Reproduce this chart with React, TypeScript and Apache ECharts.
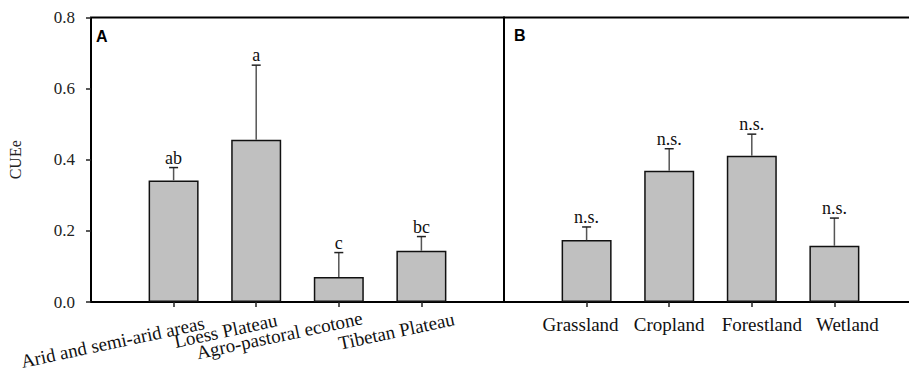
import React, { useEffect, useRef } from "react";
import * as echarts from "echarts";

const regionCategories = ["Arid and semi-arid areas", "Loess Plateau", "Agro-pastoral ecotone", "Tibetan Plateau"];
const regionMeans = [0.342, 0.456, 0.07, 0.144];
const regionErrorTops = [0.378, 0.666, 0.139, 0.184];
const regionLetters = ["ab", "a", "c", "bc"];

const landCategories = ["Grassland", "Cropland", "Forestland", "Wetland"];
const landMeans = [0.174, 0.369, 0.411, 0.158];
const landErrorTops = [0.211, 0.431, 0.472, 0.236];
const landLetters = ["n.s.", "n.s.", "n.s.", "n.s."];

const categoryPositions = [1, 2, 3, 4];
const yMin = 0;
const yMax = 0.8;
const yStep = 0.2;

const SERIF = '"Liberation Serif", "Times New Roman", serif';
const LABEL_SIZE = 19;
const LABEL_ROTATE = 12;

// label style tweaks (not data): text-end offsets along / across the rotated baseline
const regionLabelOffsets: [number, number][] = [
  [25.5, 26.6],
  [16.7, 21.7],
  [19.5, 20.2],
  [28.5, 23.2],
];
const landLabelRich: Record<string, any> = {
  l0: { padding: [0, 12, 0, 0] },
  l1: { padding: [0, 0, 0, 0] },
  l2: { padding: [0, 0, 0, 20] },
  l3: { padding: [0, 0, 0, 26] },
};

function errorSeries(xAxisIndex: number, yAxisIndex: number, means: number[], tops: number[], letters: string[]) {
  return {
    type: "custom",
    xAxisIndex,
    yAxisIndex,
    z: 5,
    encode: { x: 0, y: [1, 2] },
    data: categoryPositions.map((p, i) => [p, means[i], tops[i]]),
    renderItem: (params: any, api: any) => {
      const x = api.value(0);
      const base = api.coord([x, api.value(1)]);
      const top = api.coord([x, api.value(2)]);
      return {
        type: "group",
        children: [
          {
            type: "line",
            shape: { x1: base[0], y1: base[1], x2: top[0], y2: top[1] },
            style: { stroke: "#555", lineWidth: 1.5 },
          },
          {
            type: "line",
            shape: { x1: top[0] - 4.5, y1: top[1], x2: top[0] + 4.5, y2: top[1] },
            style: { stroke: "#222", lineWidth: 1.5 },
          },
          {
            type: "text",
            x: top[0],
            y: top[1] - 1,
            style: {
              text: letters[params.dataIndex],
              align: "center",
              verticalAlign: "bottom",
              fontSize: 18,
              fontFamily: SERIF,
              fill: "#111",
            },
          },
        ],
      };
    },
  };
}

function regionLabelSeries() {
  return {
    type: "custom",
    xAxisIndex: 0,
    yAxisIndex: 0,
    clip: false,
    silent: true,
    z: 6,
    encode: { x: 0, y: 1 },
    data: categoryPositions.map((p) => [p, yMin]),
    renderItem: (params: any, api: any) => {
      const anchor = api.coord([api.value(0), api.value(1)]);
      const i = params.dataIndex;
      const [u, v] = regionLabelOffsets[i];
      return {
        type: "group",
        x: anchor[0],
        y: anchor[1],
        rotation: (LABEL_ROTATE * Math.PI) / 180,
        children: [
          {
            type: "text",
            x: u,
            y: v,
            style: {
              text: regionCategories[i],
              align: "right",
              verticalAlign: "middle",
              fontSize: LABEL_SIZE,
              fontFamily: SERIF,
              fill: "#111",
            },
          },
        ],
      };
    },
  };
}

function barSeries(xAxisIndex: number, yAxisIndex: number, means: number[]) {
  return {
    type: "bar",
    xAxisIndex,
    yAxisIndex,
    barWidth: 50,
    data: categoryPositions.map((p, i) => [p, means[i]]),
    itemStyle: { color: "#c0c0c0", borderColor: "#111", borderWidth: 1.5 },
  };
}

export default function App() {
  const ref = useRef<HTMLDivElement>(null);
  useEffect(() => {
    if (!ref.current) return;
    const chart = echarts.init(ref.current, undefined, { renderer: "svg" });
    const tick = { show: true, customValues: categoryPositions, length: 5, lineStyle: { color: "#222", width: 1.5 } };
    chart.setOption({
      animation: false,
      backgroundColor: "#fff",
      title: [
        {
          text: "A",
          left: 96,
          top: 28,
          padding: 0,
          textStyle: { fontSize: 16, fontWeight: "bold", fontFamily: '"Liberation Sans", Arial, sans-serif', color: "#000" },
        },
        {
          text: "B",
          left: 514,
          top: 27,
          padding: 0,
          textStyle: { fontSize: 16, fontWeight: "bold", fontFamily: '"Liberation Sans", Arial, sans-serif', color: "#000" },
        },
      ],
      grid: [
        {
          left: 91, top: 17.5, width: 413, height: 284.5,
          containLabel: false, outerBoundsMode: "none",
          show: true, borderColor: "#000", borderWidth: 2, backgroundColor: "transparent",
        },
        {
          left: 504, top: 17.5, width: 413, height: 284.5,
          containLabel: false, outerBoundsMode: "none",
          show: true, borderColor: "#000", borderWidth: 2, backgroundColor: "transparent",
        },
      ],
      xAxis: [
        {
          type: "value",
          gridIndex: 0,
          min: 0,
          max: 5,
          interval: 1,
          axisLine: { show: false },
          splitLine: { show: false },
          axisTick: tick,
          axisLabel: { show: false },
        },
        {
          type: "value",
          gridIndex: 1,
          min: 0,
          max: 5,
          interval: 1,
          axisLine: { show: false },
          splitLine: { show: false },
          axisTick: tick,
          axisLabel: {
            customValues: categoryPositions,
            showMinLabel: true,
            showMaxLabel: true,
            hideOverlap: false,
            margin: 13,
            fontSize: LABEL_SIZE,
            fontFamily: SERIF,
            color: "#111",
            formatter: (v: number) => {
              const i = Math.round(v) - 1;
              return landCategories[i] ? `{l${i}|${landCategories[i]}}` : "";
            },
            rich: Object.fromEntries(
              Object.entries(landLabelRich).map(([k, s]) => [k, { ...s, fontSize: LABEL_SIZE, fontFamily: SERIF, color: "#111" }])
            ),
          },
        },
      ],
      yAxis: [
        {
          type: "value",
          gridIndex: 0,
          min: yMin,
          max: yMax,
          interval: yStep,
          name: "CUEe",
          nameLocation: "middle",
          nameGap: 68,
          nameTextStyle: { fontSize: 16, fontFamily: SERIF, color: "#222" },
          axisLine: { show: false },
          splitLine: { show: false },
          axisTick: { show: true, length: 5, lineStyle: { color: "#222", width: 1.5 } },
          axisLabel: {
            margin: 16,
            fontSize: 17,
            fontFamily: SERIF,
            color: "#222",
            showMinLabel: true,
            showMaxLabel: true,
            formatter: (v: number) => v.toFixed(1),
          },
        },
        {
          type: "value",
          gridIndex: 1,
          min: yMin,
          max: yMax,
          interval: yStep,
          axisLine: { show: false },
          splitLine: { show: false },
          axisTick: { show: false },
          axisLabel: { show: false },
        },
      ],
      series: [
        barSeries(0, 0, regionMeans),
        errorSeries(0, 0, regionMeans, regionErrorTops, regionLetters),
        regionLabelSeries(),
        barSeries(1, 1, landMeans),
        errorSeries(1, 1, landMeans, landErrorTops, landLetters),
      ],
    });
    return () => chart.dispose();
  }, []);
  return (
    <div
      ref={ref}
      style={{ position: "absolute", left: 0, top: 0, width: 909, height: 371, background: "#fff" }}
    />
  );
}
